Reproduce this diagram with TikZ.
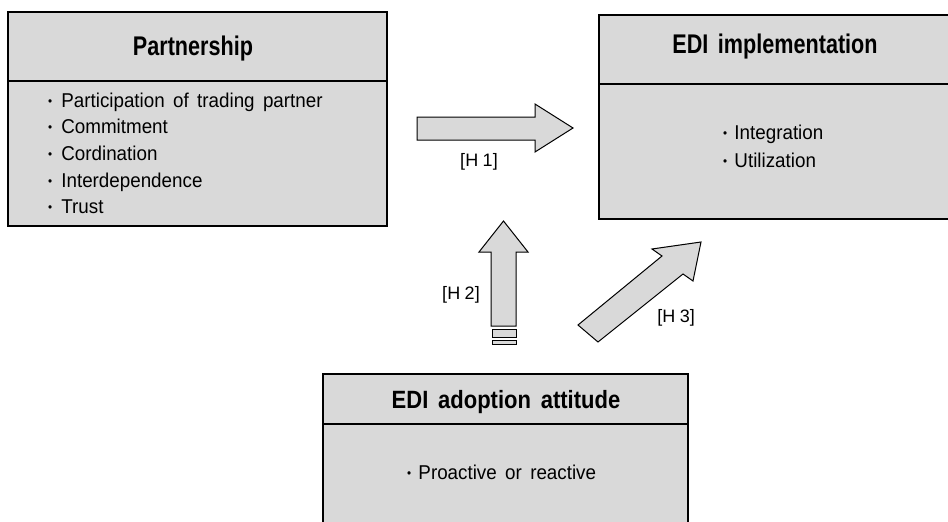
\documentclass[tikz,border=0pt]{standalone}
\usepackage{fontspec}
\setmainfont{Liberation Sans}[WordSpace=1.6]
\definecolor{boxgray}{gray}{0.85}
\newcommand\bul[1]{\makebox[#1][l]{\raisebox{0.08em}{\scalebox{0.62}{•}}}}
\newcommand\ttlx[2]{\scalebox{#1}[1]{#2}}
\begin{document}
\begin{tikzpicture}[x=1pt,y=-1pt,
  box/.style={draw=black, line width=1.1pt, fill=boxgray},
  blockarrow/.style={draw=black, line width=1pt, fill=boxgray, line join=miter},
  ttl/.style={anchor=base, inner sep=0pt, font=\bfseries\fontsize{27}{30}\selectfont},
  item/.style={anchor=base west, inner sep=0pt, font=\fontsize{20}{24}\selectfont},
  lbl/.style={anchor=base, inner sep=0pt, font=\fontsize{18}{22}\selectfont}]
\path[use as bounding box, clip] (0,0) rectangle (948,522);
\fill[white] (0,0) rectangle (948,522);
% Partnership box
\draw[box] (8,12) rectangle (387,226);
\draw[line width=1.1pt] (8,81) -- (387,81);
\node[ttl] (pt) at (193,55) {\ttlx{0.8}{Partnership}};
\node[item] (p1) at (48,107) {\ttlx{0.94}{\bul{0.7em}Participation of trading partner}};
\node[item] (p2) at (48,133) {\ttlx{0.94}{\bul{0.7em}Commitment}};
\node[item] (p3) at (48,160) {\ttlx{0.94}{\bul{0.7em}Cordination}};
\node[item] (p4) at (48,187) {\ttlx{0.94}{\bul{0.7em}Interdependence}};
\node[item] (p5) at (48,213) {\ttlx{0.94}{\bul{0.7em}Trust}};
% EDI implementation box
\draw[box] (599,15) rectangle (952,219);
\draw[line width=1.1pt] (599,84) -- (952,84);
\node[ttl] (it) at (775,53) {\ttlx{0.8}{EDI implementation}};
\node[item] (i1) at (723,139) {\ttlx{0.94}{\bul{0.6em}Integration}};
\node[item] (i2) at (723,167) {\ttlx{0.94}{\bul{0.6em}Utilization}};
% EDI adoption attitude box
\draw[box] (323,374) rectangle (688,530);
\draw[line width=1.1pt] (323,424) -- (688,424);
\node[ttl, font=\bfseries\fontsize{25}{28}\selectfont] (at) at (506,408) {\ttlx{0.88}{EDI adoption attitude}};
\node[item] (a1) at (407,479) {\ttlx{0.94}{\bul{0.6em}Proactive or reactive}};
% H1 arrow
\draw[blockarrow] (417,117) -- (535,117) -- (535,104) -- (573,128) -- (535,152) -- (535,140) -- (417,140) -- cycle;
\node[lbl] (h1) at (479,166) {[H\hspace{0.25em}1]};
% H2 arrow
\draw[blockarrow] (491,326) -- (491,252) -- (479,252) -- (503.5,221) -- (528,252) -- (516,252) -- (516,326) -- cycle;
\draw[blockarrow, line width=0.9pt] (492,329) rectangle (516,337);
\draw[blockarrow, line width=0.9pt] (492,340.5) rectangle (516,344);
\node[lbl] (h2) at (461,299) {[H\hspace{0.25em}2]};
% H3 arrow
\draw[blockarrow] (578,325) -- (662,256) -- (652,249) -- (701,242) -- (693,281) -- (683,274) -- (598,342) -- cycle;
\node[lbl] (h3) at (676,322) {[H\hspace{0.25em}3]};
\end{tikzpicture}
\end{document}
